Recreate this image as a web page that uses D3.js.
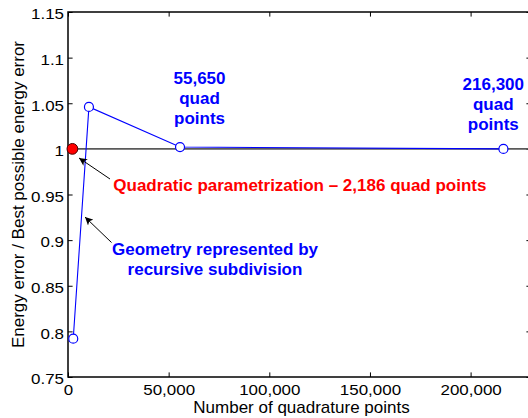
<!DOCTYPE html>
<html>
<head>
<meta charset="utf-8">
<script src="https://cdn.jsdelivr.net/npm/d3@7"></script>
<style>
  html, body { margin: 0; padding: 0; background: #fff; }
  svg { display: block; font-family: "Liberation Sans", Arial, Helvetica, sans-serif; }
</style>
</head>
<body>
<svg id="chart" width="528" height="418"></svg>
<script>
// Energy error ratio vs. number of quadrature points
const subdivQuadPoints   = [2600, 10400, 55650, 216300];
const subdivErrorRatio   = [0.792, 1.046, 1.002, 1.000];
const quadraticQuadPoints = [2186];
const quadraticErrorRatio = [1.0];
const referenceRatio = 1.0;

const xTickValues = [0, 50000, 100000, 150000, 200000];
const yTickValues = [0.75, 0.8, 0.85, 0.9, 0.95, 1, 1.05, 1.1, 1.15];
const xDomain = [0, 230000];
const yDomain = [0.75, 1.15];

const svg = d3.select("#chart");
const box = { left: 68, top: 12, right: 531, bottom: 377 };

const x = d3.scaleLinear().domain(xDomain).range([box.left, box.right]);
const y = d3.scaleLinear().domain(yDomain).range([box.bottom, box.top]);

const tickLen = 4.6;
const tickFont = 15;
const stretch = 1.13;

// Axes with inward ticks on all four sides
const gBottom = svg.append("g").attr("transform", `translate(0,${box.bottom})`)
  .call(d3.axisBottom(x).tickValues(xTickValues).tickSizeInner(-tickLen).tickSizeOuter(0)
        .tickPadding(7.2).tickFormat(d3.format(",")));
const gTop = svg.append("g").attr("transform", `translate(0,${box.top})`)
  .call(d3.axisTop(x).tickValues(xTickValues).tickSizeInner(-tickLen).tickSizeOuter(0).tickFormat(""));
const gLeft = svg.append("g").attr("transform", `translate(${box.left},0)`)
  .call(d3.axisLeft(y).tickValues(yTickValues).tickSizeInner(-tickLen).tickSizeOuter(0)
        .tickPadding(3.5).tickFormat(d3.format("~g")));
const gRight = svg.append("g").attr("transform", `translate(${box.right},0)`)
  .call(d3.axisRight(y).tickValues(yTickValues).tickSizeInner(-tickLen).tickSizeOuter(0).tickFormat(""));

[gBottom, gTop, gLeft, gRight].forEach(g => {
  g.select(".domain").remove();
  g.selectAll(".tick line").attr("stroke", "#000").attr("stroke-width", 1);
  g.selectAll(".tick text")
    .attr("fill", "#000")
    .attr("font-size", tickFont)
    .attr("font-family", "Liberation Sans, Arial, sans-serif")
    .attr("transform", `scale(${stretch},1)`);
});
gLeft.selectAll(".tick text").attr("dy", "0.45em");

// Plot frame
svg.append("rect")
  .attr("x", box.left).attr("y", box.top)
  .attr("width", box.right - box.left).attr("height", box.bottom - box.top)
  .attr("fill", "none").attr("stroke", "#000").attr("stroke-width", 1.5);

// Reference level at ratio 1
svg.append("line")
  .attr("x1", x(xDomain[0])).attr("x2", x(xDomain[1]))
  .attr("y1", y(referenceRatio)).attr("y2", y(referenceRatio))
  .attr("stroke", "#5a5a5a").attr("stroke-width", 1.6);

// Recursive subdivision series
const subdiv = subdivQuadPoints.map((q, i) => ({ q, r: subdivErrorRatio[i] }));
svg.append("path")
  .datum(subdiv)
  .attr("fill", "none").attr("stroke", "#0000ff").attr("stroke-width", 1.1)
  .attr("d", d3.line().x(d => x(d.q)).y(d => y(d.r)));
svg.selectAll("circle.subdiv").data(subdiv).join("circle")
  .attr("class", "subdiv")
  .attr("cx", d => x(d.q)).attr("cy", d => y(d.r)).attr("r", 4.5)
  .attr("fill", "#fff").attr("stroke", "#0000ff").attr("stroke-width", 1.2);

// Quadratic parametrization point
const quadratic = quadraticQuadPoints.map((q, i) => ({ q, r: quadraticErrorRatio[i] }));
svg.selectAll("circle.quadratic").data(quadratic).join("circle")
  .attr("class", "quadratic")
  .attr("cx", d => x(d.q)).attr("cy", d => y(d.r)).attr("r", 5.4)
  .attr("fill", "#ff0000").attr("stroke", "#4a0000").attr("stroke-width", 1);

// Axis titles
svg.append("text")
  .attr("x", (box.left + box.right) / 2 + 2).attr("y", 413)
  .attr("text-anchor", "middle").attr("font-size", 17).attr("fill", "#000")
  .text("Number of quadrature points");
svg.append("text")
  .attr("transform", `translate(24,${(box.top + box.bottom) / 2}) rotate(-90)`)
  .attr("text-anchor", "middle").attr("font-size", 17).attr("fill", "#000")
  .text("Energy error / Best possible energy error");

// Annotations
function block(lines, cx, y0, lh, color) {
  const t = svg.append("text").attr("text-anchor", "middle")
    .attr("font-size", 17).attr("font-weight", "bold").attr("fill", color);
  lines.forEach((s, i) => t.append("tspan").attr("x", cx).attr("y", y0 + i * lh).text(s));
}
block(["55,650", "quad", "points"], 199.5, 84, 19.8, "#0000ff");
block(["216,300", "quad", "points"], 493.3, 90, 19.8, "#0000ff");
block(["Geometry represented by", "recursive subdivision"], 215, 255, 20, "#0000ff");

svg.append("text")
  .attr("x", 113.3).attr("y", 191)
  .attr("font-size", 17).attr("font-weight", "bold").attr("fill", "#ff0000")
  .text("Quadratic parametrization \u2013 2,186 quad points");

// Arrows
const defs = svg.append("defs");
defs.append("marker")
  .attr("id", "head").attr("markerUnits", "userSpaceOnUse")
  .attr("viewBox", "0 0 10 10").attr("refX", 10).attr("refY", 5)
  .attr("markerWidth", 9).attr("markerHeight", 8).attr("orient", "auto")
  .append("path").attr("d", "M0,0 L10,5 L0,10 L2.5,5 Z").attr("fill", "#000");

const arrows = [
  { x1: 110, y1: 179, x2: 79, y2: 158 },
  { x1: 111.5, y1: 242.5, x2: 85, y2: 217 }
];
svg.selectAll("line.arrow").data(arrows).join("line")
  .attr("class", "arrow")
  .attr("x1", d => d.x1).attr("y1", d => d.y1)
  .attr("x2", d => d.x2).attr("y2", d => d.y2)
  .attr("stroke", "#000").attr("stroke-width", 1)
  .attr("marker-end", "url(#head)");
</script>
</body>
</html>
